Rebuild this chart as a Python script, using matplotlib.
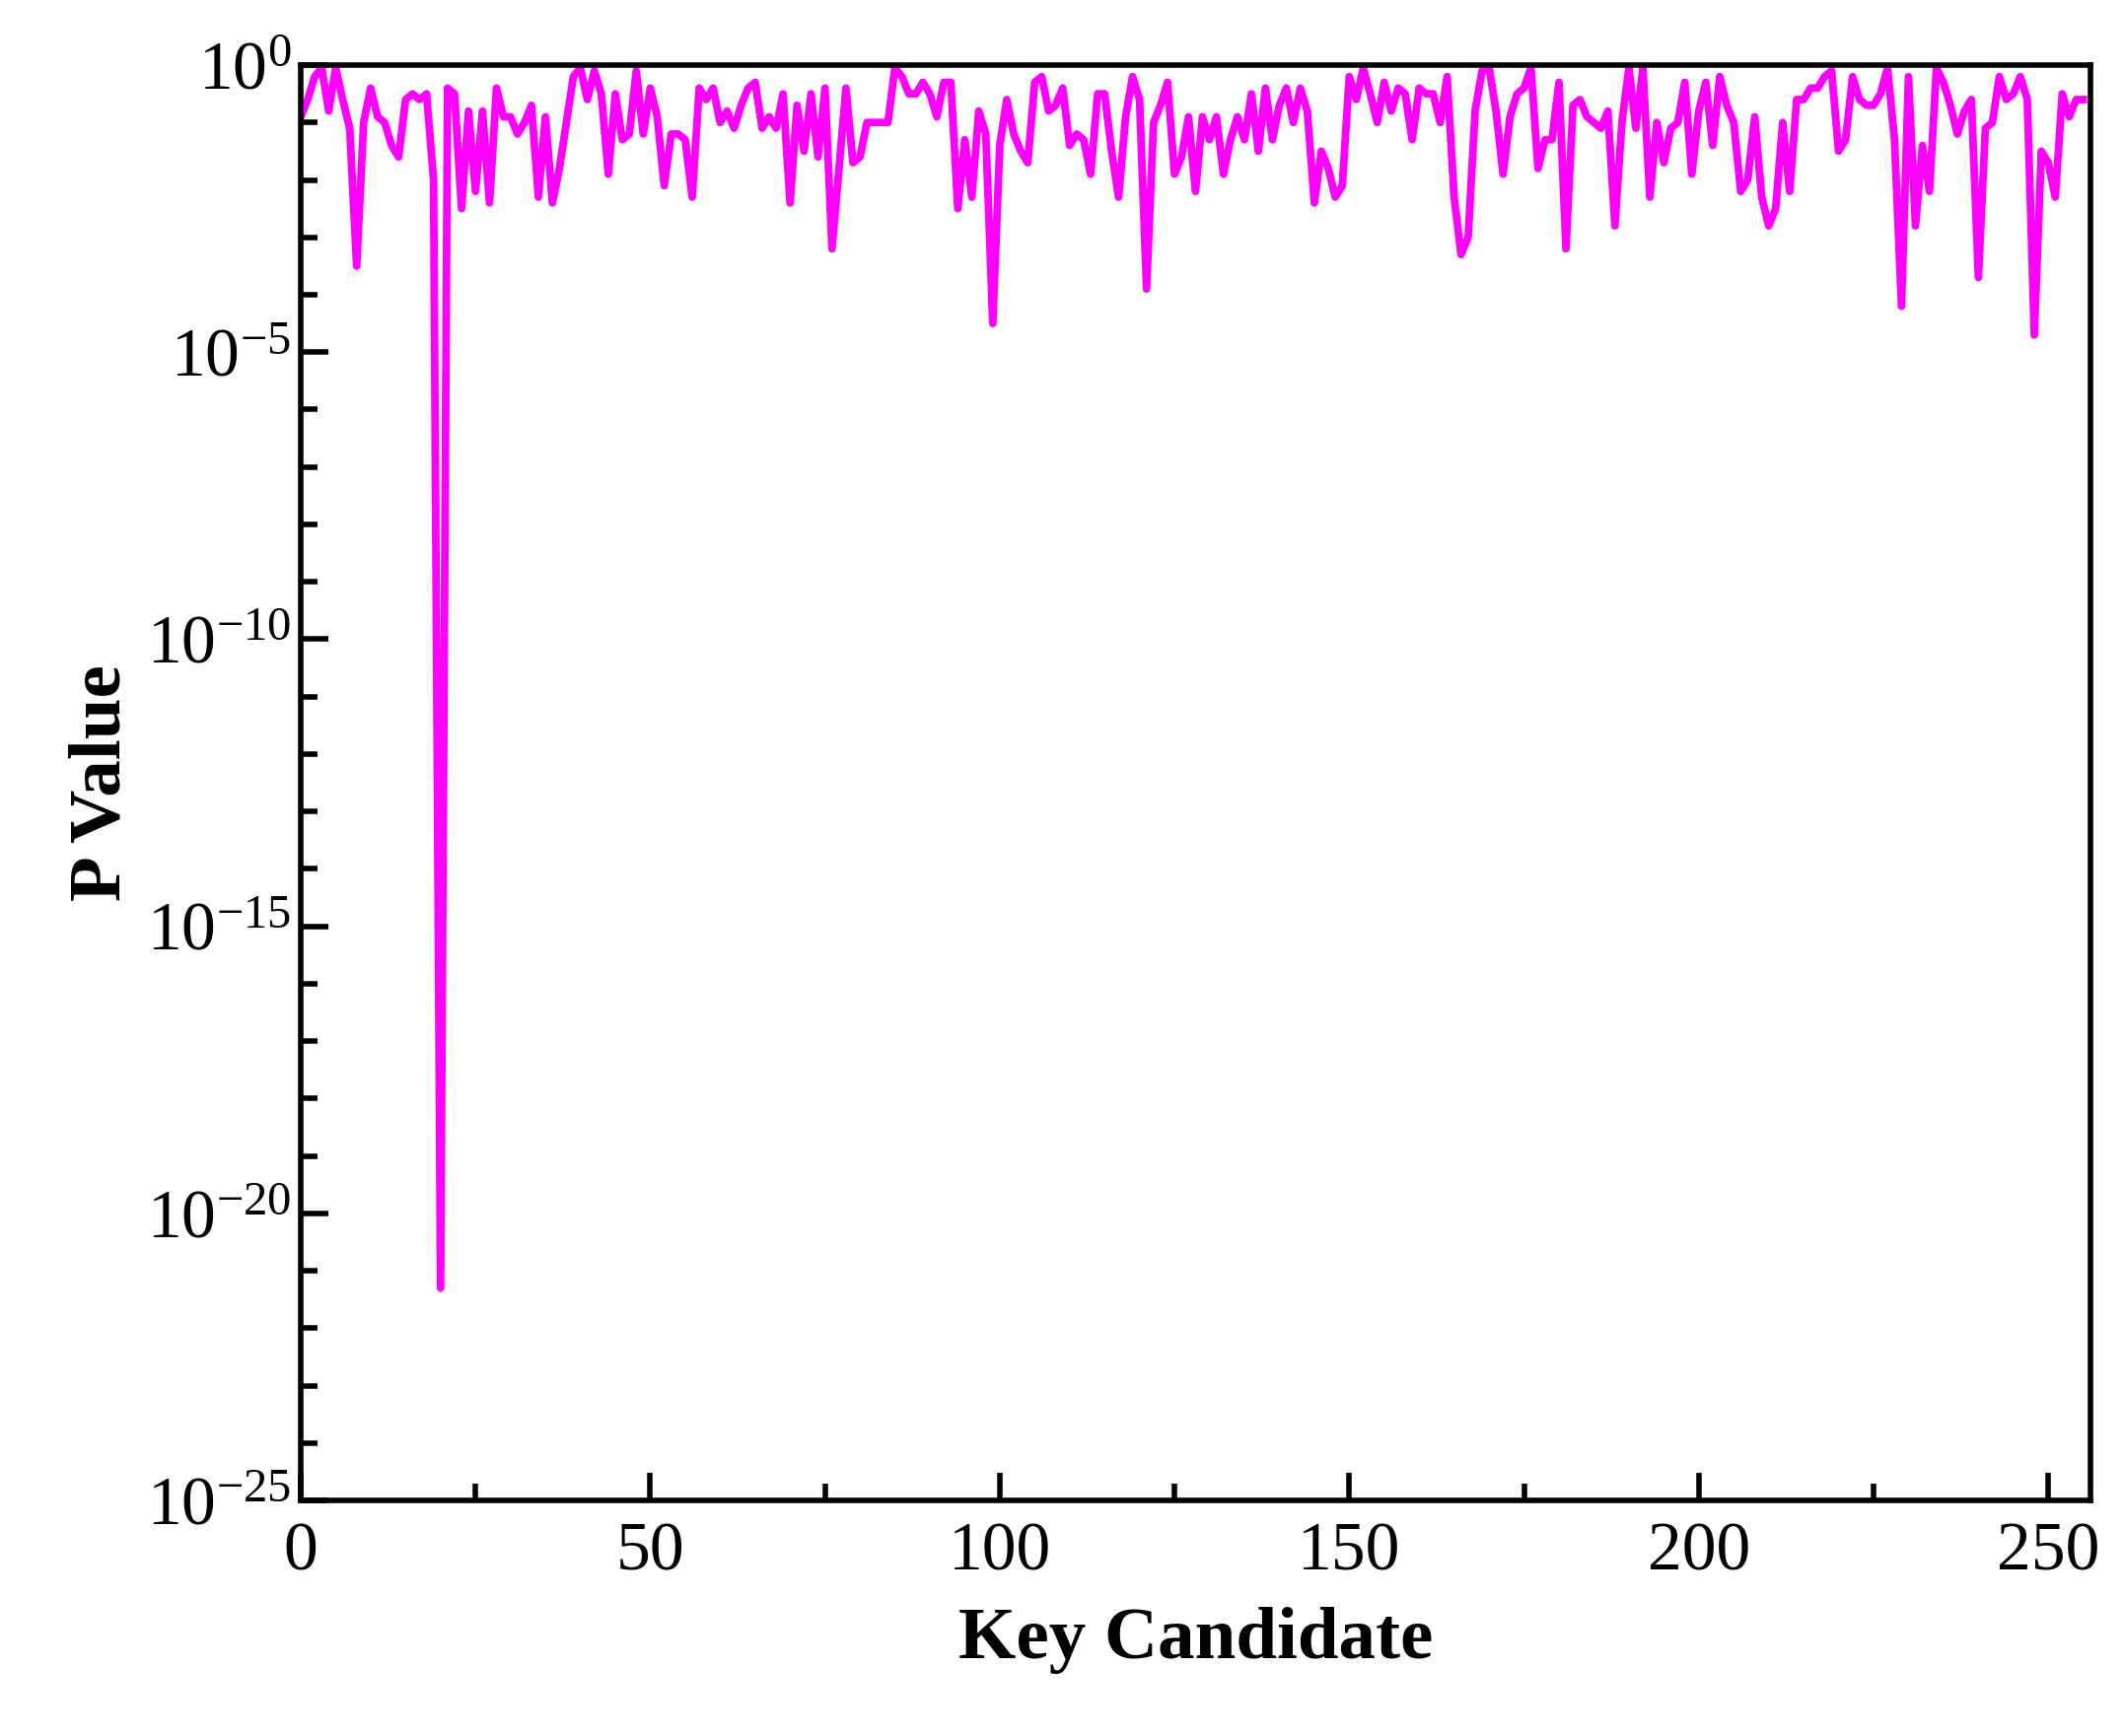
import numpy as np
import matplotlib
matplotlib.use("Agg")
import matplotlib.pyplot as plt
from matplotlib.ticker import MultipleLocator, FixedLocator, NullFormatter

log_p = [
-0.9,-0.6,-0.2,-0.05,-0.8,-0.05,-0.6,-1.1,-3.5,-1.0,-0.4,-0.9,-1.0,-1.4,-1.6,-0.6,
-0.5,-0.6,-0.5,-2.0,-21.3,-0.4,-0.5,-2.5,-0.8,-2.2,-0.8,-2.4,-0.4,-0.9,-0.9,-1.2,
-1.0,-0.7,-2.3,-0.9,-2.4,-1.8,-1.0,-0.2,-0.05,-0.6,-0.1,-0.5,-1.9,-0.5,-1.3,-1.2,
-0.1,-1.2,-0.4,-0.9,-2.1,-1.2,-1.2,-1.3,-2.3,-0.4,-0.6,-0.4,-1.0,-0.8,-1.1,-0.7,
-0.4,-0.3,-1.1,-0.9,-1.1,-0.5,-2.4,-0.7,-1.5,-0.5,-1.6,-0.4,-3.2,-1.8,-0.4,-1.7,
-1.6,-1.0,-1.0,-1.0,-1.0,-0.05,-0.2,-0.5,-0.5,-0.3,-0.5,-0.9,-0.3,-0.3,-2.5,-1.3,
-2.3,-0.8,-1.2,-4.5,-1.4,-0.6,-1.2,-1.5,-1.7,-0.3,-0.2,-0.8,-0.7,-0.4,-1.4,-1.2,
-1.3,-1.9,-0.5,-0.5,-1.5,-2.3,-0.9,-0.2,-0.6,-3.9,-1.0,-0.7,-0.3,-1.9,-1.6,-0.9,
-2.2,-0.9,-1.3,-0.9,-1.9,-1.3,-0.9,-1.3,-0.5,-1.5,-0.4,-1.3,-0.7,-0.4,-1.0,-0.4,
-0.8,-2.4,-1.5,-1.8,-2.3,-2.1,-0.2,-0.6,-0.05,-0.5,-1.0,-0.3,-0.8,-0.4,-0.5,-1.3,
-0.4,-0.5,-0.5,-1.0,-0.2,-2.3,-3.3,-3.0,-0.8,-0.1,-0.05,-0.8,-1.9,-0.9,-0.5,-0.4,
-0.05,-1.8,-1.3,-1.3,-0.3,-3.2,-0.7,-0.6,-0.9,-1.0,-1.1,-0.8,-2.8,-1.0,-0.05,-1.1,
-0.05,-2.3,-1.0,-1.7,-1.1,-1.0,-0.3,-1.9,-0.8,-0.3,-1.4,-0.2,-0.7,-1.0,-2.2,-2.0,
-0.9,-2.3,-2.8,-2.5,-1.0,-2.2,-0.6,-0.6,-0.4,-0.4,-0.2,-0.1,-1.5,-1.3,-0.2,-0.6,
-0.7,-0.7,-0.5,-0.05,-1.3,-4.2,-0.2,-2.8,-1.4,-2.2,-0.05,-0.3,-0.7,-1.2,-0.8,-0.6,
-3.7,-1.1,-1.0,-0.2,-0.6,-0.5,-0.2,-0.6,-4.7,-1.5,-1.7,-2.3,-0.5,-0.9,-0.6,-0.6,
]
key_candidate = np.arange(len(log_p))
p_value = 10.0 ** np.array(log_p)

plt.rcParams['font.family'] = ['Liberation Serif', 'DejaVu Serif']
plt.rcParams['mathtext.fontset'] = 'stix'

fig = plt.figure(figsize=(2154/200, 1761/200), dpi=200)
ax = fig.add_axes([0.1416, 0.1357, 0.8425, 0.8268])
ax.plot(key_candidate, p_value, color='#FF00FF', lw=2.8)
ax.set_yscale('log')
ax.set_ylim(1e-25, 1)
ax.set_xlim(0, 256)
ax.yaxis.set_major_locator(FixedLocator([1e-25, 1e-20, 1e-15, 1e-10, 1e-5, 1]))
ax.yaxis.set_minor_locator(FixedLocator([10.0**k for k in range(-25, 1) if k % 5 != 0]))
ax.yaxis.set_minor_formatter(NullFormatter())
ax.xaxis.set_major_locator(MultipleLocator(50))
ax.xaxis.set_minor_locator(MultipleLocator(25))
ax.tick_params(which='both', direction='in', width=2.0, labelsize=25)
ax.tick_params(which='major', length=10)
ax.tick_params(which='minor', length=6)
ax.tick_params(axis='x', pad=8)
for s in ax.spines.values():
    s.set_linewidth(2.0)
ax.set_xlabel('Key Candidate', fontsize=27, fontweight='bold', labelpad=8)
ax.set_ylabel('P Value', fontsize=27, fontweight='bold', labelpad=4)
fig.savefig('out.png', dpi=200)
